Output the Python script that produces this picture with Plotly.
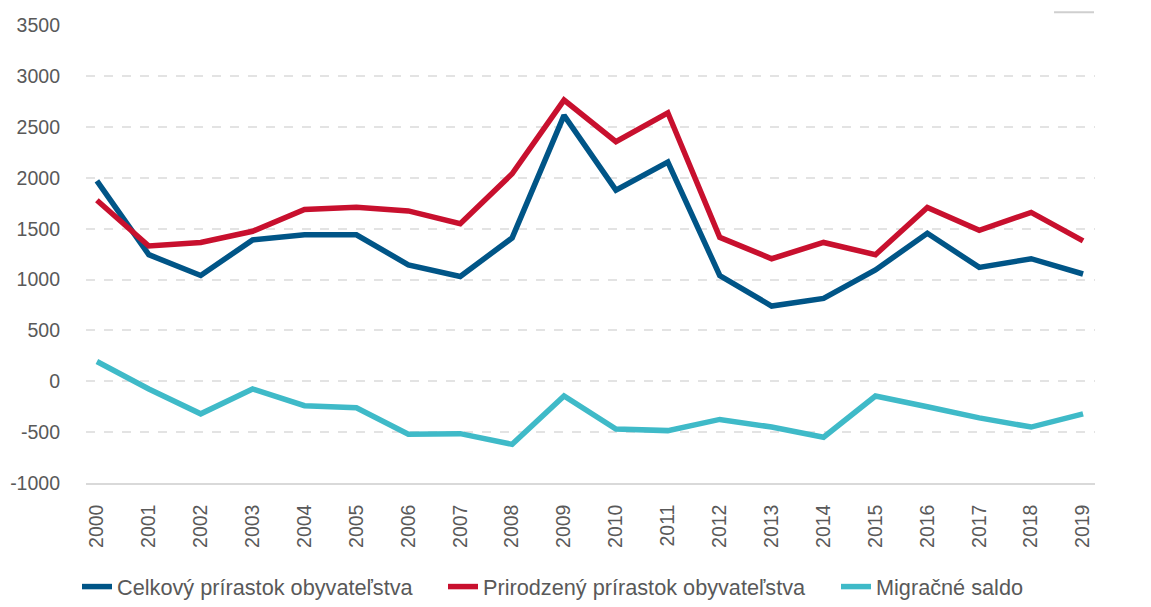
import plotly.graph_objects as go

years = list(range(2000, 2020))
celkovy = [1970, 1245, 1040, 1390, 1440, 1440, 1145, 1030, 1410, 2615, 1880, 2155, 1040, 740, 815, 1095, 1455, 1120, 1205, 1055]
prirodzeny = [1780, 1330, 1365, 1475, 1690, 1710, 1675, 1550, 2040, 2765, 2355, 2640, 1415, 1205, 1365, 1245, 1710, 1485, 1660, 1380]
migracne = [195, -75, -320, -75, -240, -260, -520, -515, -620, -145, -470, -485, -375, -450, -550, -145, -250, -360, -450, -320]
y_ticks = list(range(-1000, 3501, 500))

names = ["Celkový prírastok obyvateľstva", "Prirodzený prírastok obyvateľstva", "Migračné saldo"]
colors = ["#005587", "#C8102E", "#3FBAC8"]
series = [celkovy, prirodzeny, migracne]
legend_ids = ["legend", "legend2", "legend3"]
legend_x = [-0.0089, 0.3538, 0.7433]

FONT = "Liberation Sans, Arial, sans-serif"
GREY = "#595959"

fig = go.Figure()
for n, c, s, lg in zip(names, colors, series, legend_ids):
    fig.add_trace(go.Scatter(x=years, y=s, name=n, mode="lines", legend=lg,
                             line=dict(color=c, width=5.5)))

legend_common = dict(orientation="h", xanchor="left", y=-0.227, yanchor="middle",
                     font=dict(family=FONT, size=21.7, color=GREY), itemwidth=30,
                     bgcolor="rgba(0,0,0,0)")
layout_legends = {lg: dict(x=lx, **legend_common) for lg, lx in zip(legend_ids, legend_x)}

fig.update_layout(
    width=1151, height=607,
    margin=dict(l=86, r=56, t=25, b=124, autoexpand=False),
    paper_bgcolor="white", plot_bgcolor="white",
    font=dict(family=FONT, size=19.5, color=GREY),
    showlegend=True,
    xaxis=dict(range=[1999.79, 2019.23], tickmode="array", tickvals=years,
               ticktext=[str(y) for y in years], tickangle=-90, automargin=False,
               showgrid=False, zeroline=False, showline=True, linecolor="#d9d9d9", linewidth=1.5,
               ticks="", ticklabelstandoff=12, tickfont=dict(size=19.5, color=GREY)),
    yaxis=dict(range=[-1000, 3503], tickmode="array", tickvals=y_ticks,
               ticktext=[str(v) for v in y_ticks], automargin=False,
               showgrid=True, gridcolor="#e3e3e3", griddash="dash", gridwidth=1.5,
               zeroline=False, showline=False, ticks="", ticklabelstandoff=25,
               tickfont=dict(size=19.5, color=GREY)),
    shapes=[dict(type="line", xref="paper", yref="paper", x0=0.9594, x1=0.999, y0=1.028, y1=1.028,
                 line=dict(color="#cfcfcf", width=2), layer="above")],
    **layout_legends,
)

fig.write_html("out.html", config={"displayModeBar": False},
               post_script="document.body.style.margin='0px';document.body.style.overflow='hidden';")
